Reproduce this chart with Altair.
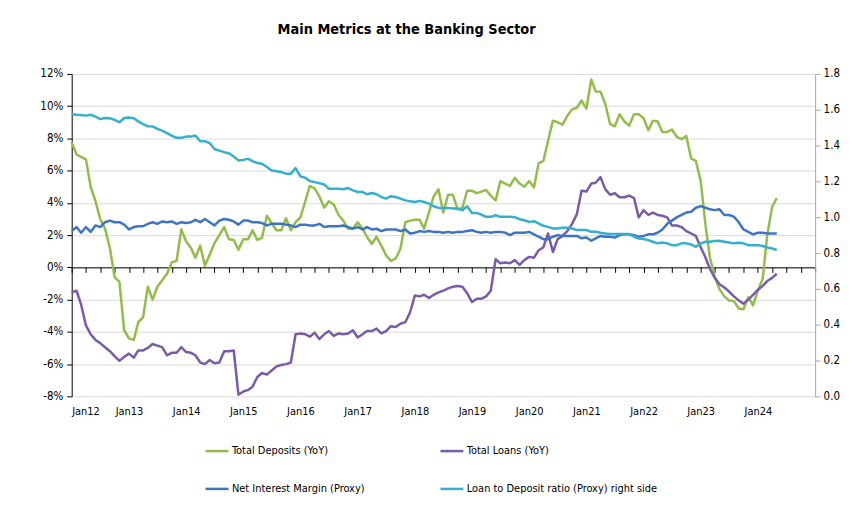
import altair as alt
import pandas as pd

# ---------------- data (monthly, Jan 2012 - May 2024) ----------------
months = pd.date_range("2012-01-01", periods=149, freq="MS").strftime("%Y-%m-%dT00:00:00").tolist()

series_names = [
    "Total Deposits (YoY)",
    "Total Loans (YoY)",
    "Net Interest Margin (Proxy)",
    "Loan to Deposit ratio (Proxy) right side",
]
series_colors = ["#92BD4A", "#7B5BA8", "#3D75C2", "#35AFCB"]

total_deposits = [
    7.75, 7.0, 6.85, 6.7, 5.0, 4.1, 3.0, 2.4, 1.2, -0.6, -0.9, -3.9,
    -4.4, -4.5, -3.4, -3.1, -1.2, -2.0, -1.2, -0.8, -0.4, 0.3, 0.4, 2.35,
    1.6, 1.2, 0.6, 1.35, 0.1, 0.8, 1.5, 2.0, 2.5, 1.75, 1.7, 1.1,
    1.75, 1.75, 2.3, 1.7, 1.85, 3.2, 2.75, 2.3, 2.3, 3.05, 2.3, 2.8,
    3.1, 4.1, 5.05, 4.9, 4.4, 3.7, 4.1, 3.9, 3.25, 2.9, 2.4, 2.4,
    2.8, 2.4, 1.9, 1.45, 1.9, 1.35, 0.75, 0.4, 0.55, 1.15, 2.8, 2.9,
    2.95, 2.95, 2.4, 3.4, 4.4, 4.85, 3.4, 4.5, 4.5, 3.6, 3.7, 4.75,
    4.75, 4.6, 4.7, 4.8, 4.45, 4.15, 5.35, 5.2, 5.05, 5.55, 5.2, 5.0,
    5.35, 4.95, 6.45, 6.6, 7.85, 9.1, 9.0, 8.85, 9.4, 9.8, 9.9, 10.35,
    9.85, 11.65, 10.9, 10.9, 10.15, 8.9, 8.75, 9.5, 9.05, 8.8, 9.5, 9.5,
    9.25, 8.5, 9.1, 9.05, 8.4, 8.4, 8.55, 8.1, 7.95, 8.15, 6.75, 6.6,
    5.35, 2.6, 0.6, -0.6, -1.35, -1.8, -2.05, -2.1, -2.55, -2.6, -1.85, -2.35,
    -1.45, -0.7, 2.0, 3.75, 4.3,
]

total_loans = [
    -1.55, -1.45, -2.3, -3.6, -4.15, -4.5, -4.7, -4.95, -5.2, -5.5, -5.8, -5.55,
    -5.35, -5.6, -5.15, -5.15, -5.0, -4.75, -4.85, -4.95, -5.45, -5.3, -5.3, -4.95,
    -5.25, -5.3, -5.45, -5.9, -6.0, -5.75, -5.95, -5.9, -5.2, -5.2, -5.15, -7.9,
    -7.7, -7.6, -7.4, -6.8, -6.55, -6.65, -6.4, -6.15, -6.05, -6.0, -5.9, -4.15,
    -4.1, -4.15, -4.3, -4.05, -4.45, -4.15, -3.95, -4.25, -4.1, -4.15, -4.1, -3.9,
    -4.35, -4.15, -3.95, -3.95, -3.8, -4.1, -3.95, -3.65, -3.7, -3.5, -3.4, -2.8,
    -1.75, -1.8, -1.7, -1.9, -1.7, -1.55, -1.45, -1.3, -1.2, -1.15, -1.2, -1.6,
    -2.15, -1.95, -1.95, -1.8, -1.45, 0.5, 0.25, 0.3, 0.25, 0.45, 0.15, 0.45,
    0.65, 0.6, 1.05, 1.25, 2.1, 0.95, 1.75, 1.95, 2.25, 2.7, 3.3, 4.75,
    4.7, 5.2, 5.25, 5.6, 4.85, 4.5, 4.6, 4.35, 4.35, 4.45, 4.3, 3.1,
    3.55, 3.25, 3.4, 3.25, 3.2, 3.1, 2.6, 2.6, 2.5, 2.25, 2.1, 1.95,
    1.25, 0.6, -0.1, -0.65, -1.05, -1.25, -1.5, -1.8, -2.05, -2.25, -2.0, -1.7,
    -1.4, -1.15, -0.85, -0.65, -0.4,
]

net_interest_margin = [
    2.25, 2.5, 2.15, 2.5, 2.2, 2.6, 2.5, 2.8, 2.9, 2.8, 2.8, 2.65,
    2.35, 2.5, 2.55, 2.55, 2.7, 2.8, 2.7, 2.85, 2.8, 2.85, 2.7, 2.8,
    2.75, 2.8, 2.95, 2.8, 3.0, 2.8, 2.6, 2.9, 3.0, 2.95, 2.85, 2.65,
    2.9, 2.9, 2.8, 2.8, 2.75, 2.6, 2.7, 2.7, 2.7, 2.65, 2.6, 2.5,
    2.65, 2.65, 2.6, 2.6, 2.7, 2.5, 2.55, 2.55, 2.55, 2.6, 2.5, 2.4,
    2.5, 2.35, 2.5, 2.35, 2.4, 2.25, 2.35, 2.35, 2.35, 2.25, 2.35, 2.1,
    2.15, 2.25, 2.2, 2.25, 2.2, 2.2, 2.15, 2.2, 2.15, 2.2, 2.2, 2.25,
    2.3, 2.2, 2.15, 2.2, 2.15, 2.2, 2.2, 2.15, 2.0, 2.15, 2.15, 2.15,
    2.2, 2.05, 1.9, 1.75, 1.75, 1.9, 2.0, 1.95, 1.95, 1.95, 1.95, 1.8,
    1.85, 1.65, 1.8, 1.95, 1.9, 1.9, 1.85, 2.0, 2.05, 2.05, 2.0, 1.9,
    1.95, 2.05, 2.05, 2.15, 2.35, 2.7, 2.9, 3.1, 3.25, 3.4, 3.45, 3.7,
    3.8, 3.7, 3.6, 3.55, 3.6, 3.25, 3.25, 3.15, 2.8, 2.35, 2.2, 2.05,
    2.15, 2.15, 2.1, 2.1, 2.1,
]

loan_to_deposit = [
    1.576, 1.572, 1.570, 1.567, 1.572, 1.561, 1.548, 1.554, 1.552, 1.544, 1.530, 1.554,
    1.557, 1.552, 1.535, 1.520, 1.507, 1.507, 1.493, 1.483, 1.469, 1.456, 1.443, 1.443,
    1.450, 1.450, 1.456, 1.424, 1.424, 1.413, 1.381, 1.372, 1.363, 1.357, 1.339, 1.317,
    1.320, 1.326, 1.313, 1.302, 1.298, 1.280, 1.261, 1.257, 1.252, 1.243, 1.243, 1.274,
    1.228, 1.220, 1.202, 1.196, 1.190, 1.183, 1.159, 1.159, 1.159, 1.156, 1.163, 1.150,
    1.141, 1.141, 1.128, 1.135, 1.128, 1.113, 1.104, 1.117, 1.113, 1.104, 1.094, 1.089,
    1.085, 1.091, 1.085, 1.076, 1.061, 1.052, 1.052, 1.052, 1.048, 1.048, 1.039, 1.061,
    1.024, 1.024, 1.015, 1.002, 1.002, 1.011, 1.002, 1.002, 1.002, 1.000, 0.989, 0.983,
    0.974, 0.978, 0.965, 0.952, 0.946, 0.937, 0.937, 0.941, 0.941, 0.937, 0.928, 0.928,
    0.928, 0.919, 0.919, 0.913, 0.909, 0.906, 0.906, 0.906, 0.906, 0.906, 0.891, 0.881,
    0.878, 0.872, 0.863, 0.854, 0.859, 0.854, 0.844, 0.844, 0.854, 0.854, 0.848, 0.835,
    0.854, 0.863, 0.863, 0.867, 0.869, 0.863, 0.859, 0.854, 0.857, 0.854, 0.844, 0.844,
    0.844, 0.839, 0.831, 0.826, 0.817,
]

left_ticks = [-8, -6, -4, -2, 0, 2, 4, 6, 8, 10, 12]
right_ticks = [0.0, 0.2, 0.4, 0.6, 0.8, 1.0, 1.2, 1.4, 1.6, 1.8]
label_years = list(range(2012, 2025))
quarter_ticks = pd.date_range("2012-01-01", "2025-01-01", freq="QS").strftime("%Y-%m-%dT00:00:00").tolist()

# ---------------- tables ----------------
left_rows = []
for name, vals in zip(series_names[:3], [total_deposits, total_loans, net_interest_margin]):
    for d, v in zip(months, vals):
        left_rows.append({"date": d, "series": name, "value": v})
df_left = pd.DataFrame(left_rows)
df_right = pd.DataFrame({"date": months, "series": series_names[3], "value": loan_to_deposit})

FONT = "DejaVu Sans Condensed, Liberation Sans Narrow, Liberation Sans, sans-serif"
W, H = 747, 324
x_domain = [alt.DateTime(year=2012, month=1, date=1), alt.DateTime(year=2025, month=1, date=1)]
x_scale = alt.Scale(domain=x_domain)

color = alt.Color(
    "series:N",
    scale=alt.Scale(domain=series_names, range=series_colors),
    legend=alt.Legend(
        orient="none", legendX=133, legendY=366, columns=2, direction="horizontal", title=None,
        symbolType="stroke", symbolSize=530, symbolStrokeWidth=2.5,
        labelFont=FONT, labelFontSize=11, labelColor="#000000", labelOffset=2, labelLimit=400,
        columnPadding=70, rowPadding=20,
    ),
)

label_axis = alt.Axis(
    values=[alt.DateTime(year=y, month=1, date=1) for y in label_years],
    format="%b%y", ticks=False, domain=False, grid=False, title=None,
    labelFont=FONT, labelFontSize=11, labelColor="#000000", labelPadding=9,
)
zero_axis = alt.Axis(
    orient="bottom", offset=-H * 8 / 20, values=quarter_ticks, labels=False, ticks=True,
    tickSize=5, tickColor="#000000", domain=True, domainColor="#000000", domainWidth=1,
    grid=False, title=None,
)

left = alt.Chart(df_left).mark_line(strokeWidth=2.5, strokeJoin="round").encode(
    x=alt.X("date:T", scale=x_scale, axis=label_axis),
    y=alt.Y(
        "value:Q", scale=alt.Scale(domain=[-8, 12], nice=False),
        axis=alt.Axis(
            orient="left", values=left_ticks, labelExpr="datum.value + '%'", title=None,
            grid=True, gridColor="#D9D9D9", gridWidth=1,
            domainColor="#000000", tickColor="#000000", tickSize=5,
            labelFont=FONT, labelFontSize=11.5, labelColor="#000000", labelPadding=4,
        ),
    ),
    color=color,
)

right = alt.Chart(df_right).mark_line(strokeWidth=2.5, strokeJoin="round").encode(
    x=alt.X("date:T", scale=x_scale, axis=zero_axis),
    y=alt.Y(
        "value:Q", scale=alt.Scale(domain=[0, 1.8], nice=False),
        axis=alt.Axis(
            orient="right", values=right_ticks, format=".1f", title=None, grid=False,
            domainColor="#A6A6A6", tickColor="#A6A6A6", tickSize=5,
            labelFont=FONT, labelFontSize=11.5, labelColor="#000000", labelPadding=3,
        ),
    ),
    color=color,
)

chart = (
    alt.layer(left, right)
    .resolve_scale(y="independent")
    .resolve_axis(x="independent")
    .properties(
        width=W, height=H,
        title=alt.TitleParams(
            "Main Metrics at the Banking Sector", font=FONT, fontSize=14.5, fontWeight="bold",
            color="#000000", anchor="middle", dx=-37, offset=31,
        ),
        autosize=alt.AutoSizeParams(type="none"),
        padding={"left": 64, "top": 65, "right": 30, "bottom": 115},
    )
    .configure_view(stroke=None)
)

chart.save("out.html", embed_options={"renderer": "svg", "actions": False})
